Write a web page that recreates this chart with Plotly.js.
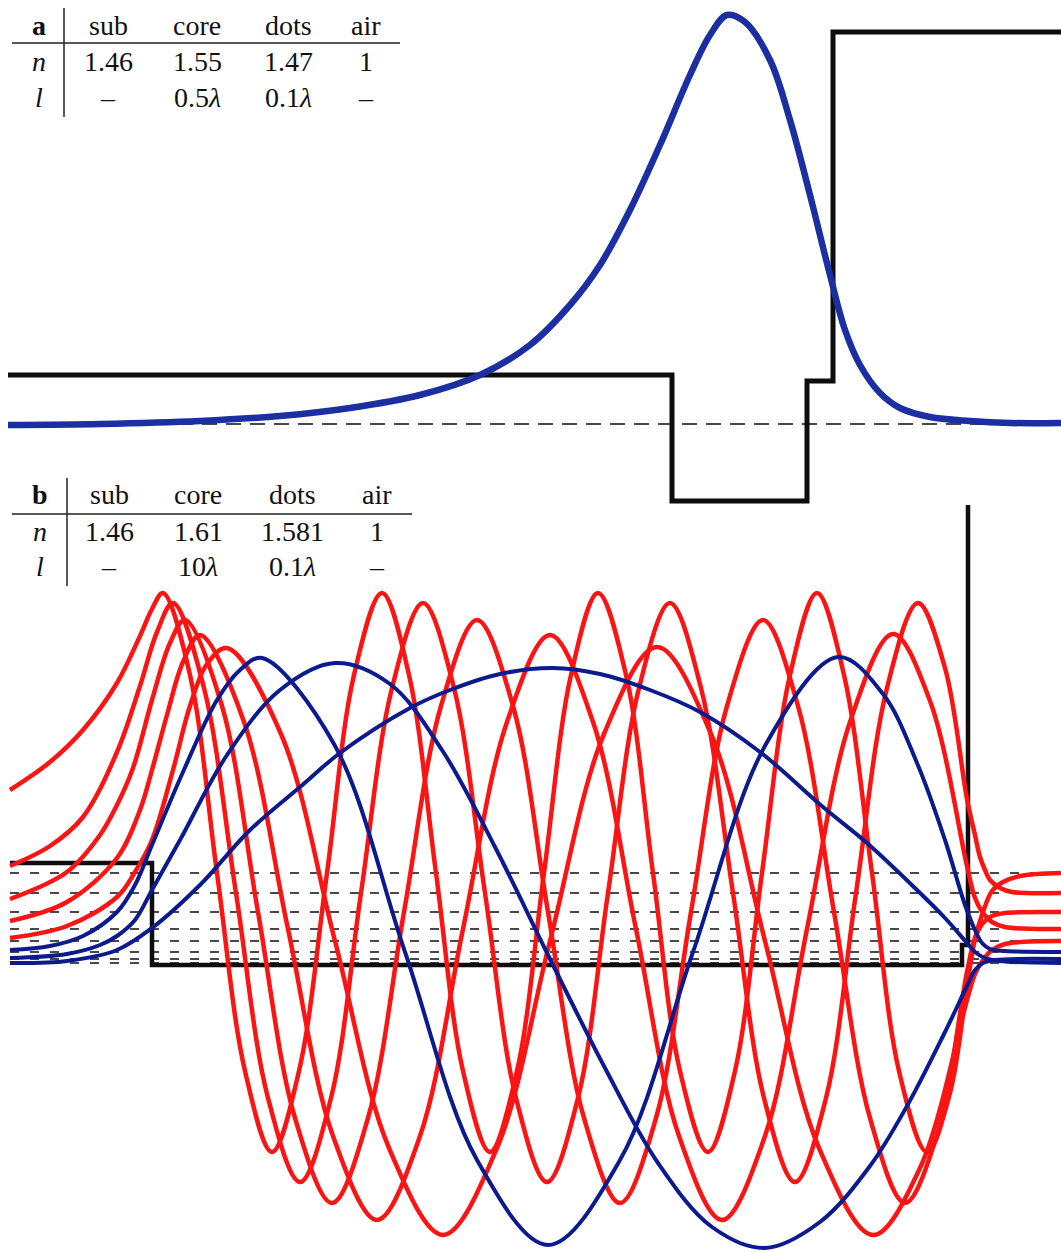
<!DOCTYPE html>
<html>
<head>
<meta charset="utf-8">
<script src="https://cdn.plot.ly/plotly-3.0.1.min.js"></script>
<style>html,body{margin:0;padding:0;background:#fff}#chart{width:1061px;height:1252px}</style>
</head>
<body>
<div id="chart"></div>
<script>
// ---------- Panel a ----------
const profileA_x = [8, 672, 672, 807, 807, 833, 833, 1061];
const profileA_y = [375, 375, 501, 501, 381, 381, 32, 32];
const levelA = 424;
const modeA_x = [8, 100, 200, 280, 350, 420, 480, 530, 570, 600, 630, 660, 690, 710, 727, 745, 770, 790, 810, 830, 845, 860, 880, 900, 930, 970, 1010, 1061];
const modeA_y = [425, 424, 421, 416, 408, 395, 375, 345, 305, 265, 210, 145, 75, 35, 15, 22, 60, 120, 195, 275, 330, 365, 393, 408, 417, 421, 423, 423];

// ---------- Panel b ----------
const profileB_x = [10, 152, 152, 962, 962, 968, 968];
const profileB_y = [863, 863, 965, 965, 945, 945, 505];
const levelsB = [873, 893, 912, 929, 941, 952, 959, 963];

const m7x = [10, 50, 83, 117, 140, 152, 163, 190, 217, 245, 272, 299, 327, 354, 382, 409, 436, 463, 490, 517, 544, 571, 598, 626, 653, 680, 708, 735, 762, 790, 817, 844, 872, 899, 927, 950, 967, 975, 983, 992, 1003, 1020, 1061];
const m7y = [790, 762, 730, 683, 636, 609, 593, 675, 873, 1071, 1152, 1071, 873, 675, 593, 675, 873, 1071, 1152, 1071, 873, 675, 593, 675, 873, 1071, 1152, 1071, 873, 675, 593, 675, 873, 1071, 1152, 1093, 986, 939, 912, 891, 882, 876, 873];

const m6x = [10, 50, 83, 117, 140, 157, 173, 204, 236, 268, 300, 331, 361, 392, 423, 454, 485, 516, 547, 578, 608, 639, 670, 701, 733, 764, 795, 826, 856, 887, 918, 945, 967, 975, 980, 985, 990, 1000, 1012, 1061];
const m6y = [866, 846, 817, 752, 686, 632, 603, 688, 893, 1098, 1182, 1098, 893, 688, 603, 688, 893, 1098, 1182, 1098, 893, 688, 603, 688, 893, 1098, 1182, 1098, 893, 688, 603, 668, 799, 835, 857, 870, 880, 888, 892, 893];

const m5x = [10, 67, 100, 117, 133, 152, 170, 185, 222, 258, 295, 332, 368, 404, 441, 477, 513, 548, 584, 620, 656, 691, 727, 763, 798, 834, 870, 905, 937, 967, 975, 983, 992, 1005, 1061];
const m5y = [899, 872, 835, 805, 768, 700, 643, 620, 706, 912, 1118, 1203, 1118, 912, 706, 620, 706, 912, 1118, 1203, 1118, 912, 706, 620, 706, 912, 1118, 1203, 1135, 972, 938, 923, 916, 913, 912];

const m4x = [10, 67, 117, 140, 152, 167, 183, 200, 244, 288, 333, 377, 420, 463, 507, 550, 593, 636, 679, 722, 765, 807, 850, 893, 930, 967, 975, 983, 992, 1005, 1061];
const m4y = [921, 902, 858, 810, 770, 715, 662, 635, 722, 929, 1136, 1220, 1136, 929, 722, 635, 722, 929, 1136, 1220, 1136, 929, 722, 634, 701, 866, 898, 913, 922, 927, 929];

const m3x = [10, 67, 117, 135, 152, 173, 190, 207, 227, 281, 335, 389, 443, 497, 550, 604, 657, 711, 765, 819, 873, 920, 967, 975, 983, 992, 1005, 1061];
const m3y = [938, 926, 897, 872, 840, 770, 706, 664, 648, 734, 941, 1148, 1235, 1148, 941, 734, 647, 734, 941, 1148, 1235, 1168, 1000, 974, 960, 950, 944, 941];

const m2x = [10, 50, 83, 117, 135, 152, 183, 217, 240, 262, 334, 405, 477, 548, 620, 693, 766, 838, 883, 917, 945, 965, 975, 982, 990, 1005, 1061];
const m2y = [950, 946, 936, 912, 885, 845, 772, 700, 670, 658, 744, 952, 1160, 1245, 1160, 952, 744, 657, 694, 763, 840, 905, 930, 943, 949, 951, 952];

const m1x = [10, 67, 100, 117, 135, 152, 180, 227, 280, 335, 390, 442, 495, 550, 605, 658, 712, 765, 820, 870, 907, 945, 967, 975, 983, 995, 1061];
const m1y = [958, 954, 945, 936, 920, 890, 840, 755, 690, 663, 684, 750, 847, 959, 1068, 1163, 1227, 1248, 1222, 1166, 1106, 1032, 986, 970, 963, 960, 959];

const m0x = [10, 67, 117, 152, 200, 250, 300, 340, 410, 450, 500, 553, 600, 650, 700, 760, 823, 867, 917, 945, 967, 975, 985, 1000, 1061];
const m0y = [963, 961, 950, 928, 885, 830, 787, 753, 708, 690, 674, 668, 674, 690, 712, 752, 807, 843, 890, 918, 943, 952, 958, 961, 963];

// ---------- Tables ----------
const tableHeader = ["sub", "core", "dots", "air"];
const tableA_n = ["1.46", "1.55", "1.47", "1"];
const tableA_l = ["–", "0.5<i>λ</i>", "0.1<i>λ</i>", "–"];
const tableB_n = ["1.46", "1.61", "1.581", "1"];
const tableB_l = ["–", "10<i>λ</i>", "0.1<i>λ</i>", "–"];

const RED = "#fa1414", BLUE_B = "#0b1b8e", BLUE_A = "#1b2ea2", BLACK = "#0d0d0d";
const traces = [];
const line = (x, y, color, width, dash, shape) => ({
  type: "scatter", mode: "lines", x: x, y: y, hoverinfo: "skip", showlegend: false,
  line: {color: color, width: width, dash: dash || "solid", shape: shape || "linear", smoothing: 1}
});

// panel a
traces.push(line([10, 1061], [levelA, levelA], BLACK, 1.5, "15px,9px"));
traces.push(line(profileA_x, profileA_y, BLACK, 5));
traces.push(line(modeA_x, modeA_y, BLUE_A, 6.5, "solid", "spline"));

// panel b
levelsB.forEach(l => traces.push(line([10, 1061], [l, l], BLACK, 1.4, "9px,11px")));
traces.push(line(profileB_x, profileB_y, BLACK, 4.5));
[[m7x, m7y], [m6x, m6y], [m5x, m5y], [m4x, m4y], [m3x, m3y]].forEach(m => traces.push(line(m[0], m[1], RED, 4.5, "solid", "spline")));
[[m2x, m2y], [m1x, m1y], [m0x, m0y]].forEach(m => traces.push(line(m[0], m[1], BLUE_B, 4, "solid", "spline")));

// table annotations
const FONT = {family: "Liberation Serif, 'DejaVu Serif', serif", size: 28, color: "#111"};
const ann = [];
function addTable(label, colX, rowY, nVals, lVals, labelX) {
  const t = (x, y, s) => ann.push({x: x, y: y, xref: "x", yref: "y", text: s, showarrow: false, xanchor: "center", yanchor: "middle", font: FONT});
  t(labelX, rowY[0], "<b>" + label + "</b>");
  t(labelX, rowY[1], "<i>n</i>");
  t(labelX, rowY[2], "<i>l</i>");
  tableHeader.forEach((h, i) => t(colX[i], rowY[0], h));
  nVals.forEach((v, i) => t(colX[i], rowY[1], v));
  lVals.forEach((v, i) => t(colX[i], rowY[2], v));
}
addTable("a", [108, 197, 288, 366], [25, 61, 97], tableA_n, tableA_l, 39);
addTable("b", [109, 198, 292, 377], [494, 531, 566], tableB_n, tableB_l, 40);

const shapes = [
  {type: "line", xref: "x", yref: "y", x0: 12, x1: 400, y0: 43, y1: 43, line: {color: "#222", width: 1.5}},
  {type: "line", xref: "x", yref: "y", x0: 64, x1: 64, y0: 8, y1: 117, line: {color: "#222", width: 1.5}},
  {type: "line", xref: "x", yref: "y", x0: 12, x1: 412, y0: 514, y1: 514, line: {color: "#222", width: 1.5}},
  {type: "line", xref: "x", yref: "y", x0: 67, x1: 67, y0: 478, y1: 586, line: {color: "#222", width: 1.5}}
];

const layout = {
  width: 1061, height: 1252, margin: {l: 0, r: 0, t: 0, b: 0},
  paper_bgcolor: "#ffffff", plot_bgcolor: "#ffffff",
  xaxis: {range: [0, 1061], visible: false, fixedrange: true},
  yaxis: {range: [1252, 0], visible: false, fixedrange: true},
  annotations: ann, shapes: shapes, showlegend: false
};
Plotly.newPlot("chart", traces, layout, {staticPlot: true, displayModeBar: false});
</script>
</body>
</html>
